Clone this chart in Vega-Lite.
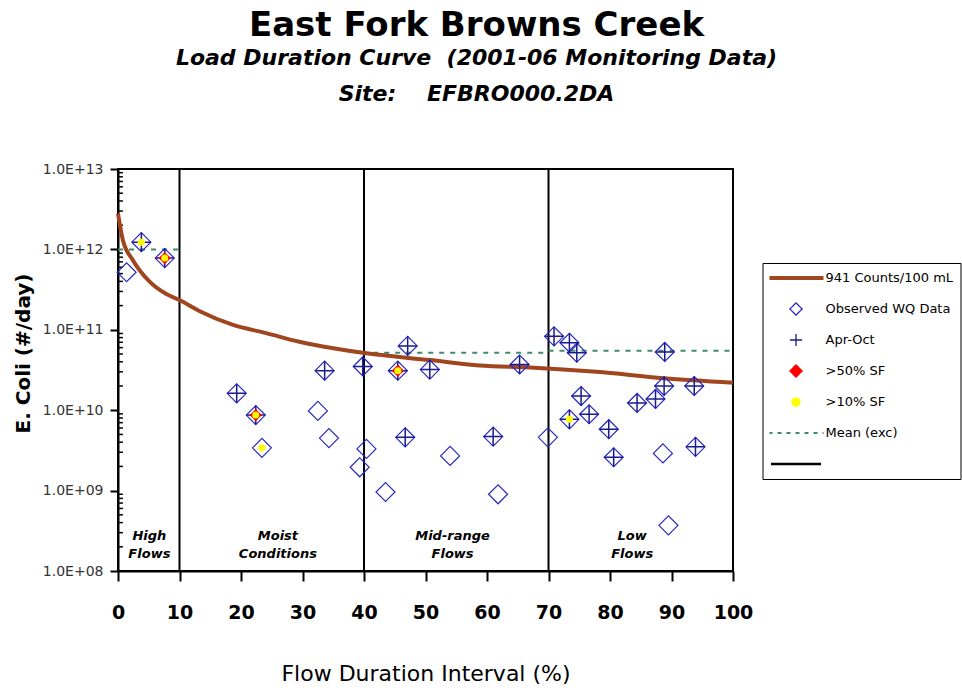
{
  "$schema": "https://vega.github.io/schema/vega-lite/v6.json",
  "width": 615,
  "height": 402,
  "autosize": {"type": "none"},
  "padding": {"left": 118, "top": 169, "right": 229, "bottom": 121},
  "background": "white",
  "title": {
    "text": "East Fork Browns Creek",
    "subtitle": ["Load Duration Curve \u00a0(2001-06 Monitoring Data)", "Site: \u00a0 \u00a0EFBRO000.2DA"],
    "anchor": "middle",
    "frame": "group",
    "dx": 51,
    "font": "DejaVu Sans",
    "fontSize": 34,
    "fontWeight": "bold",
    "color": "black",
    "subtitleFont": "DejaVu Sans",
    "subtitleFontSize": 22,
    "subtitleFontWeight": "bold",
    "subtitleFontStyle": "italic",
    "subtitleColor": "black",
    "subtitleLineHeight": 36.5,
    "subtitlePadding": 5,
    "offset": 57
  },
  "datasets": {
    "points": [
      {"x": 1.4, "y": 5.2e11, "apr": false, "s50": false, "s10": false},
      {"x": 3.8, "y": 1.23e12, "apr": true, "s50": false, "s10": true},
      {"x": 7.6, "y": 7.8e11, "apr": true, "s50": true, "s10": true},
      {"x": 19.3, "y": 1.62e10, "apr": true, "s50": false, "s10": false},
      {"x": 22.4, "y": 8.7e9, "apr": true, "s50": true, "s10": true},
      {"x": 23.4, "y": 3.4e9, "apr": false, "s50": false, "s10": true},
      {"x": 32.5, "y": 9.8e9, "apr": false, "s50": false, "s10": false},
      {"x": 33.6, "y": 3.1e10, "apr": true, "s50": false, "s10": false},
      {"x": 34.3, "y": 4.5e9, "apr": false, "s50": false, "s10": false},
      {"x": 39.3, "y": 1.95e9, "apr": false, "s50": false, "s10": false},
      {"x": 39.8, "y": 3.5e10, "apr": true, "s50": false, "s10": false},
      {"x": 40.4, "y": 3.3e9, "apr": false, "s50": false, "s10": false},
      {"x": 43.5, "y": 9.6e8, "apr": false, "s50": false, "s10": false},
      {"x": 45.5, "y": 3.1e10, "apr": true, "s50": true, "s10": true},
      {"x": 46.7, "y": 4.6e9, "apr": true, "s50": false, "s10": false},
      {"x": 47.1, "y": 6.3e10, "apr": true, "s50": false, "s10": false},
      {"x": 50.7, "y": 3.2e10, "apr": true, "s50": false, "s10": false},
      {"x": 54.0, "y": 2.7e9, "apr": false, "s50": false, "s10": false},
      {"x": 61.0, "y": 4.7e9, "apr": true, "s50": false, "s10": false},
      {"x": 61.8, "y": 9.0e8, "apr": false, "s50": false, "s10": false},
      {"x": 65.3, "y": 3.7e10, "apr": true, "s50": false, "s10": false},
      {"x": 69.9, "y": 4.6e9, "apr": false, "s50": false, "s10": false},
      {"x": 70.9, "y": 8.3e10, "apr": true, "s50": false, "s10": false},
      {"x": 73.4, "y": 6.9e10, "apr": true, "s50": false, "s10": false},
      {"x": 74.6, "y": 5.2e10, "apr": true, "s50": false, "s10": false},
      {"x": 75.3, "y": 1.5e10, "apr": true, "s50": false, "s10": false},
      {"x": 73.4, "y": 7.7e9, "apr": true, "s50": false, "s10": true},
      {"x": 76.6, "y": 8.9e9, "apr": true, "s50": false, "s10": false},
      {"x": 79.8, "y": 5.8e9, "apr": true, "s50": false, "s10": false},
      {"x": 80.6, "y": 2.6e9, "apr": true, "s50": false, "s10": false},
      {"x": 84.4, "y": 1.23e10, "apr": true, "s50": false, "s10": false},
      {"x": 87.4, "y": 1.38e10, "apr": true, "s50": false, "s10": false},
      {"x": 88.8, "y": 2.0e10, "apr": true, "s50": false, "s10": false},
      {"x": 88.9, "y": 5.3e10, "apr": true, "s50": false, "s10": false},
      {"x": 88.6, "y": 2.9e9, "apr": false, "s50": false, "s10": false},
      {"x": 93.7, "y": 2.0e10, "apr": true, "s50": false, "s10": false},
      {"x": 93.9, "y": 3.5e9, "apr": true, "s50": false, "s10": false},
      {"x": 89.5, "y": 3.7e8, "apr": false, "s50": false, "s10": false}
    ],
    "curve": [
      {"x": 0, "y": 2.8e12},
      {"x": 0.8, "y": 1.3e12},
      {"x": 2.4, "y": 7.4e11},
      {"x": 5.1, "y": 4.0e11},
      {"x": 7.8, "y": 2.8e11},
      {"x": 10, "y": 2.35e11},
      {"x": 13.3, "y": 1.7e11},
      {"x": 18.7, "y": 1.15e11},
      {"x": 24.1, "y": 9.1e10},
      {"x": 29.5, "y": 7.1e10},
      {"x": 35, "y": 5.9e10},
      {"x": 40.4, "y": 5.1e10},
      {"x": 50.7, "y": 4.2e10},
      {"x": 58.8, "y": 3.6e10},
      {"x": 67, "y": 3.4e10},
      {"x": 77.8, "y": 3.0e10},
      {"x": 88.7, "y": 2.5e10},
      {"x": 100, "y": 2.2e10}
    ],
    "mean": [
      {"seg": "high", "x": 0, "y": 1.0e12},
      {"seg": "high", "x": 10, "y": 1.0e12},
      {"seg": "mid", "x": 41.5, "y": 5.2e10},
      {"seg": "mid", "x": 70, "y": 5.2e10},
      {"seg": "low", "x": 70, "y": 5.5e10},
      {"seg": "low", "x": 100, "y": 5.5e10}
    ],
    "zones": [{"x": 10}, {"x": 40}, {"x": 70}],
    "labels": [
      {"x": 5.1, "y": 2.72e8, "label": "High\nFlows"},
      {"x": 26.0, "y": 2.72e8, "label": "Moist\nConditions"},
      {"x": 54.4, "y": 2.72e8, "label": "Mid-range\nFlows"},
      {"x": 83.6, "y": 2.72e8, "label": "Low\nFlows"}
    ],
    "minor": [
      {"y": 2e8}, {"y": 3e8}, {"y": 4e8}, {"y": 5e8}, {"y": 6e8}, {"y": 7e8}, {"y": 8e8}, {"y": 9e8},
      {"y": 2e9}, {"y": 3e9}, {"y": 4e9}, {"y": 5e9}, {"y": 6e9}, {"y": 7e9}, {"y": 8e9}, {"y": 9e9},
      {"y": 2e10}, {"y": 3e10}, {"y": 4e10}, {"y": 5e10}, {"y": 6e10}, {"y": 7e10}, {"y": 8e10}, {"y": 9e10},
      {"y": 2e11}, {"y": 3e11}, {"y": 4e11}, {"y": 5e11}, {"y": 6e11}, {"y": 7e11}, {"y": 8e11}, {"y": 9e11},
      {"y": 2e12}, {"y": 3e12}, {"y": 4e12}, {"y": 5e12}, {"y": 6e12}, {"y": 7e12}, {"y": 8e12}, {"y": 9e12}
    ]
  },
  "layer": [
    {
      "data": {"name": "minor"},
      "mark": {"type": "rule", "color": "black", "strokeWidth": 1.5},
      "encoding": {
        "x": {"datum": 0, "type": "quantitative"},
        "x2": {"datum": 0.8},
        "y": {"field": "y", "type": "quantitative"}
      }
    },
    {
      "data": {"name": "zones"},
      "mark": {"type": "rule", "strokeWidth": 2},
      "encoding": {
        "x": {"field": "x", "type": "quantitative"},
        "color": {"datum": " ", "type": "nominal"}
      }
    },
    {
      "data": {"name": "mean"},
      "mark": {"type": "line", "strokeWidth": 2, "strokeDash": [5, 6]},
      "encoding": {
        "x": {"field": "x", "type": "quantitative"},
        "y": {"field": "y", "type": "quantitative"},
        "detail": {"field": "seg", "type": "nominal"},
        "color": {"datum": "Mean (exc)", "type": "nominal"}
      }
    },
    {
      "data": {"name": "curve"},
      "mark": {"type": "line", "strokeWidth": 4, "interpolate": "monotone"},
      "encoding": {
        "x": {"field": "x", "type": "quantitative"},
        "y": {"field": "y", "type": "quantitative"},
        "color": {"datum": "941 Counts/100 mL", "type": "nominal"}
      }
    },
    {
      "data": {"name": "points"},
      "mark": {"type": "point", "shape": "diamond", "filled": false, "size": 361, "strokeWidth": 1.2, "opacity": 1},
      "encoding": {
        "x": {
          "field": "x", "type": "quantitative",
          "scale": {"domain": [0, 100], "nice": false},
          "axis": {
            "values": [0, 10, 20, 30, 40, 50, 60, 70, 80, 90, 100],
            "title": "Flow Duration Interval (%)",
            "grid": false,
            "labelFlush": false,
            "domainColor": "black", "domainWidth": 2,
            "tickColor": "black", "tickWidth": 2, "tickSize": 10,
            "labelFont": "DejaVu Sans", "labelFontSize": 19, "labelFontWeight": "bold", "labelColor": "black",
            "labelPadding": 22,
            "titleFont": "DejaVu Sans", "titleFontSize": 22, "titleFontWeight": "normal", "titleColor": "black",
            "titlePadding": 41
          }
        },
        "y": {
          "field": "y", "type": "quantitative",
          "scale": {"type": "log", "domain": [1e8, 1e13], "nice": false},
          "axis": {
            "values": [1e8, 1e9, 1e10, 1e11, 1e12, 1e13],
            "labelExpr": "'1.0E+' + (datum.value < 1e10 ? '0' : '') + format(round(log(datum.value) / LN10), 'd')",
            "title": "E. Coli (#/day)",
            "grid": false,
            "domainColor": "black", "domainWidth": 2,
            "tickColor": "black", "tickWidth": 2, "tickSize": 8,
            "labelFont": "DejaVu Sans", "labelFontSize": 14, "labelColor": "#333333",
            "labelPadding": 7,
            "titleFont": "DejaVu Sans", "titleFontSize": 20, "titleFontWeight": "bold", "titleColor": "black",
            "titlePadding": 9,
            "titleY": 184
          }
        },
        "color": {
          "datum": "Observed WQ Data", "type": "nominal",
          "scale": {
            "domain": ["941 Counts/100 mL", "Observed WQ Data", "Apr-Oct", ">50% SF", ">10% SF", "Mean (exc)", " "],
            "range": ["#a0461e", "#2a2ac0", "#1a1a90", "#ff0000", "#ffff00", "#3d8b6d", "#000000"]
          },
          "legend": {
            "orient": "none",
            "legendX": 644.5,
            "legendY": 94,
            "padding": 7,
            "strokeColor": "black",
            "fillColor": "white",
            "symbolSize": 196,
            "symbolOffset": 20,
            "labelOffset": 23,
            "clipHeight": 16,
            "rowPadding": 15,
            "labelFont": "DejaVu Sans",
            "labelFontSize": 13,
            "labelColor": "black",
            "labelLimit": 300,
            "encoding": {
              "symbols": {
                "shape": {"value": {"signal": "(datum.value === '941 Counts/100 mL' || datum.value === 'Mean (exc)' || datum.value === ' ') ? 'stroke' : datum.value === 'Apr-Oct' ? 'M-1,0L1,0M0,-1L0,1' : datum.value === '>10% SF' ? 'circle' : 'diamond'"}},
                "size": {"value": {"signal": "(datum.value === '941 Counts/100 mL' || datum.value === 'Mean (exc)') ? 3025 : datum.value === ' ' ? 2500 : datum.value === '>10% SF' ? 64 : 150"}},
                "fill": {"value": {"signal": "datum.value === '>50% SF' ? '#ff0000' : datum.value === '>10% SF' ? '#ffff00' : 'transparent'"}},
                "fillOpacity": {"value": {"signal": "(datum.value === '>50% SF' || datum.value === '>10% SF') ? 1 : 0"}},
                "stroke": {"value": {"signal": "datum.value === '>10% SF' ? 'transparent' : scale('color', datum.value)"}},
                "strokeWidth": {"value": {"signal": "datum.value === '941 Counts/100 mL' ? 4 : datum.value === 'Mean (exc)' ? 2 : datum.value === ' ' ? 2.5 : 1.3"}},
                "strokeDash": {"value": {"signal": "datum.value === 'Mean (exc)' ? [4, 5] : [1, 0]"}}
              }
            }
          }
        }
      }
    },
    {
      "data": {"name": "points"},
      "transform": [{"filter": "datum.apr"}],
      "mark": {"type": "point", "shape": "M-1,0L1,0M0,-1L0,1", "filled": false, "size": 361, "strokeWidth": 1.5, "opacity": 1},
      "encoding": {
        "x": {"field": "x", "type": "quantitative"},
        "y": {"field": "y", "type": "quantitative"},
        "color": {"datum": "Apr-Oct", "type": "nominal"}
      }
    },
    {
      "data": {"name": "points"},
      "transform": [{"filter": "datum.s50"}],
      "mark": {"type": "point", "shape": "diamond", "filled": true, "size": 150, "opacity": 1},
      "encoding": {
        "x": {"field": "x", "type": "quantitative"},
        "y": {"field": "y", "type": "quantitative"},
        "color": {"datum": ">50% SF", "type": "nominal"}
      }
    },
    {
      "data": {"name": "points"},
      "transform": [{"filter": "datum.s10"}],
      "mark": {"type": "point", "shape": "circle", "filled": true, "size": 50, "opacity": 1},
      "encoding": {
        "x": {"field": "x", "type": "quantitative"},
        "y": {"field": "y", "type": "quantitative"},
        "color": {"datum": ">10% SF", "type": "nominal"}
      }
    },
    {
      "data": {"name": "labels"},
      "mark": {"type": "text", "font": "DejaVu Sans", "fontSize": 13, "fontWeight": "bold", "fontStyle": "italic", "color": "black", "lineBreak": "\n", "lineHeight": 18, "baseline": "middle", "align": "center"},
      "encoding": {
        "x": {"field": "x", "type": "quantitative"},
        "y": {"field": "y", "type": "quantitative"},
        "text": {"field": "label", "type": "nominal"}
      }
    }
  ],
  "config": {
    "view": {"stroke": "black", "strokeWidth": 2},
    "font": "DejaVu Sans"
  }
}
